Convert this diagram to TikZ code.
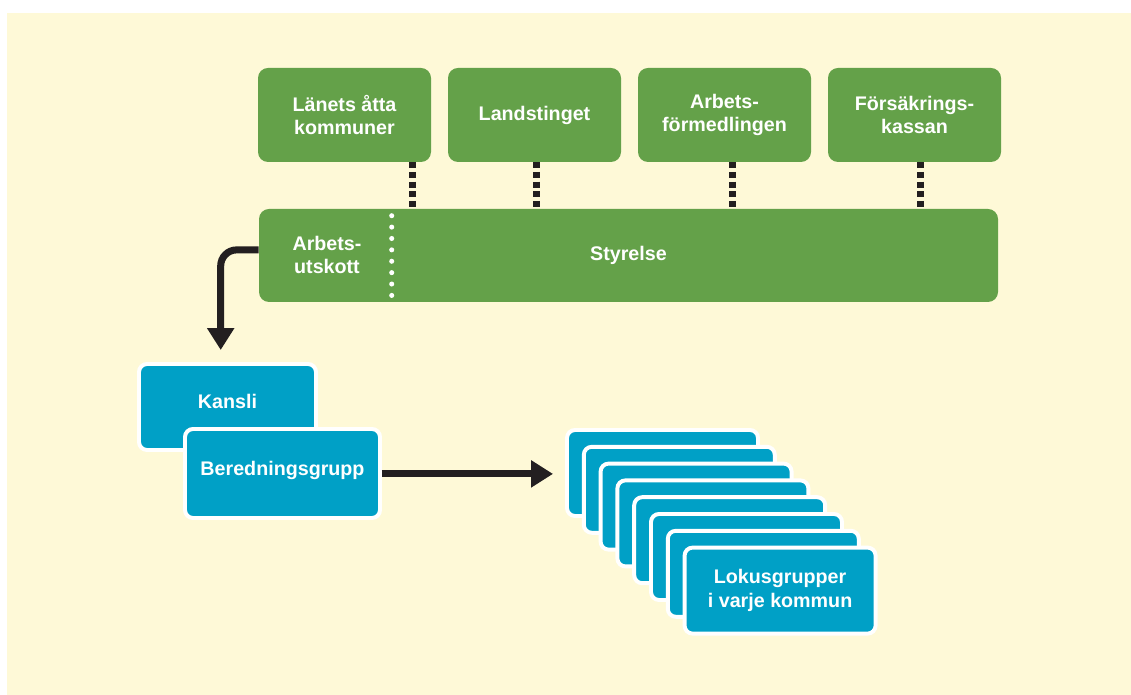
\documentclass[tikz,border=0pt]{standalone}
\usepackage{fontspec}
\setmainfont{Liberation Sans}
\usetikzlibrary{arrows.meta,positioning}
\definecolor{bggul}{HTML}{FEF9D7}
\definecolor{gron}{HTML}{64A149}
\definecolor{bla}{HTML}{00A0C6}
\definecolor{svart}{HTML}{231F20}

\begin{document}
\begin{tikzpicture}[
    txt/.style={text=white, font=\bfseries\fontsize{14}{17}\selectfont, align=center},
    gbox/.style={txt, fill=gron, rounded corners=0.25cm, minimum width=4.325cm, minimum height=2.35cm, inner sep=0pt},
    bbox/.style={txt, fill=bla, draw=white, line width=2.8pt, rounded corners=0.2cm, inner sep=0pt},
    conn/.style={draw=svart, line width=4.5pt, dash pattern=on 4.25pt off 2.6pt},
    pil/.style={draw=svart, line width=5pt, -{Triangle[length=0.55cm,width=0.65cm]}, shorten >=0.3cm}
  ]
    \fill[white] (0,0) rectangle (28.275,17.375);
    \fill[bggul] (0.175,0) rectangle (28.275,17.05);

    \node[gbox] (lan)  at (8.6125, 14.5)  {Länets åtta\\kommuner};
    \node[gbox] (land) at (13.3625, 14.5) {Landstinget};
    \node[gbox] (arbf) at (18.1125, 14.5) {Arbets-\\förmedlingen};
    \node[gbox] (fk)   at (22.8625, 14.5) {Försäkrings-\\kassan};

    \node[gbox, minimum width=18.475cm, minimum height=2.325cm] (styr) at (15.7125, 10.9875) {Styrelse};
    \node[txt] (au) at (8.175, 11.0) {Arbets-\\utskott};
    \draw[white, line width=3.6pt, line cap=round, dash pattern=on 0pt off 8.1pt]
      ([xshift=3.325cm, yshift=-0.175cm]styr.north west) -- ([xshift=3.325cm, yshift=0.15cm]styr.south west);

    \draw[conn] ([xshift=1.7cm]lan.south)   -- ([xshift=1.7cm]lan.south |- styr.north);
    \draw[conn] ([xshift=0.05cm]land.south) -- ([xshift=0.05cm]land.south |- styr.north);
    \draw[conn] ([xshift=0.2cm]arbf.south)  -- ([xshift=0.2cm]arbf.south |- styr.north);
    \draw[conn] ([xshift=0.15cm]fk.south)   -- ([xshift=0.15cm]fk.south |- styr.north);

    \node[bbox, minimum width=4.425cm, minimum height=2.15cm, text depth=0.3cm] (kansli) at (5.6875, 7.2) {Kansli};
    \node[bbox, minimum width=4.875cm, minimum height=2.225cm, text depth=0.25cm] (bered) at (7.0625, 5.5375) {Beredningsgrupp};

    \foreach \k in {0,...,6}
      \node[bbox, minimum width=4.775cm, minimum height=2.15cm] (lok\k) at (16.5625+0.42*\k, 5.55-0.42*\k) {};
    \node[bbox, minimum width=4.775cm, minimum height=2.15cm] (lok7) at (19.5025, 2.61) {Lokusgrupper\\i varje kommun};

    \draw[pil, rounded corners=0.4cm] ([yshift=0.14cm]styr.west) -| ([xshift=-0.17cm]kansli.north);
    \draw[pil] ([yshift=-0.01cm]bered.east) -- ([yshift=-0.01cm]bered.east -| lok0.west);
  \end{tikzpicture}
\end{document}
